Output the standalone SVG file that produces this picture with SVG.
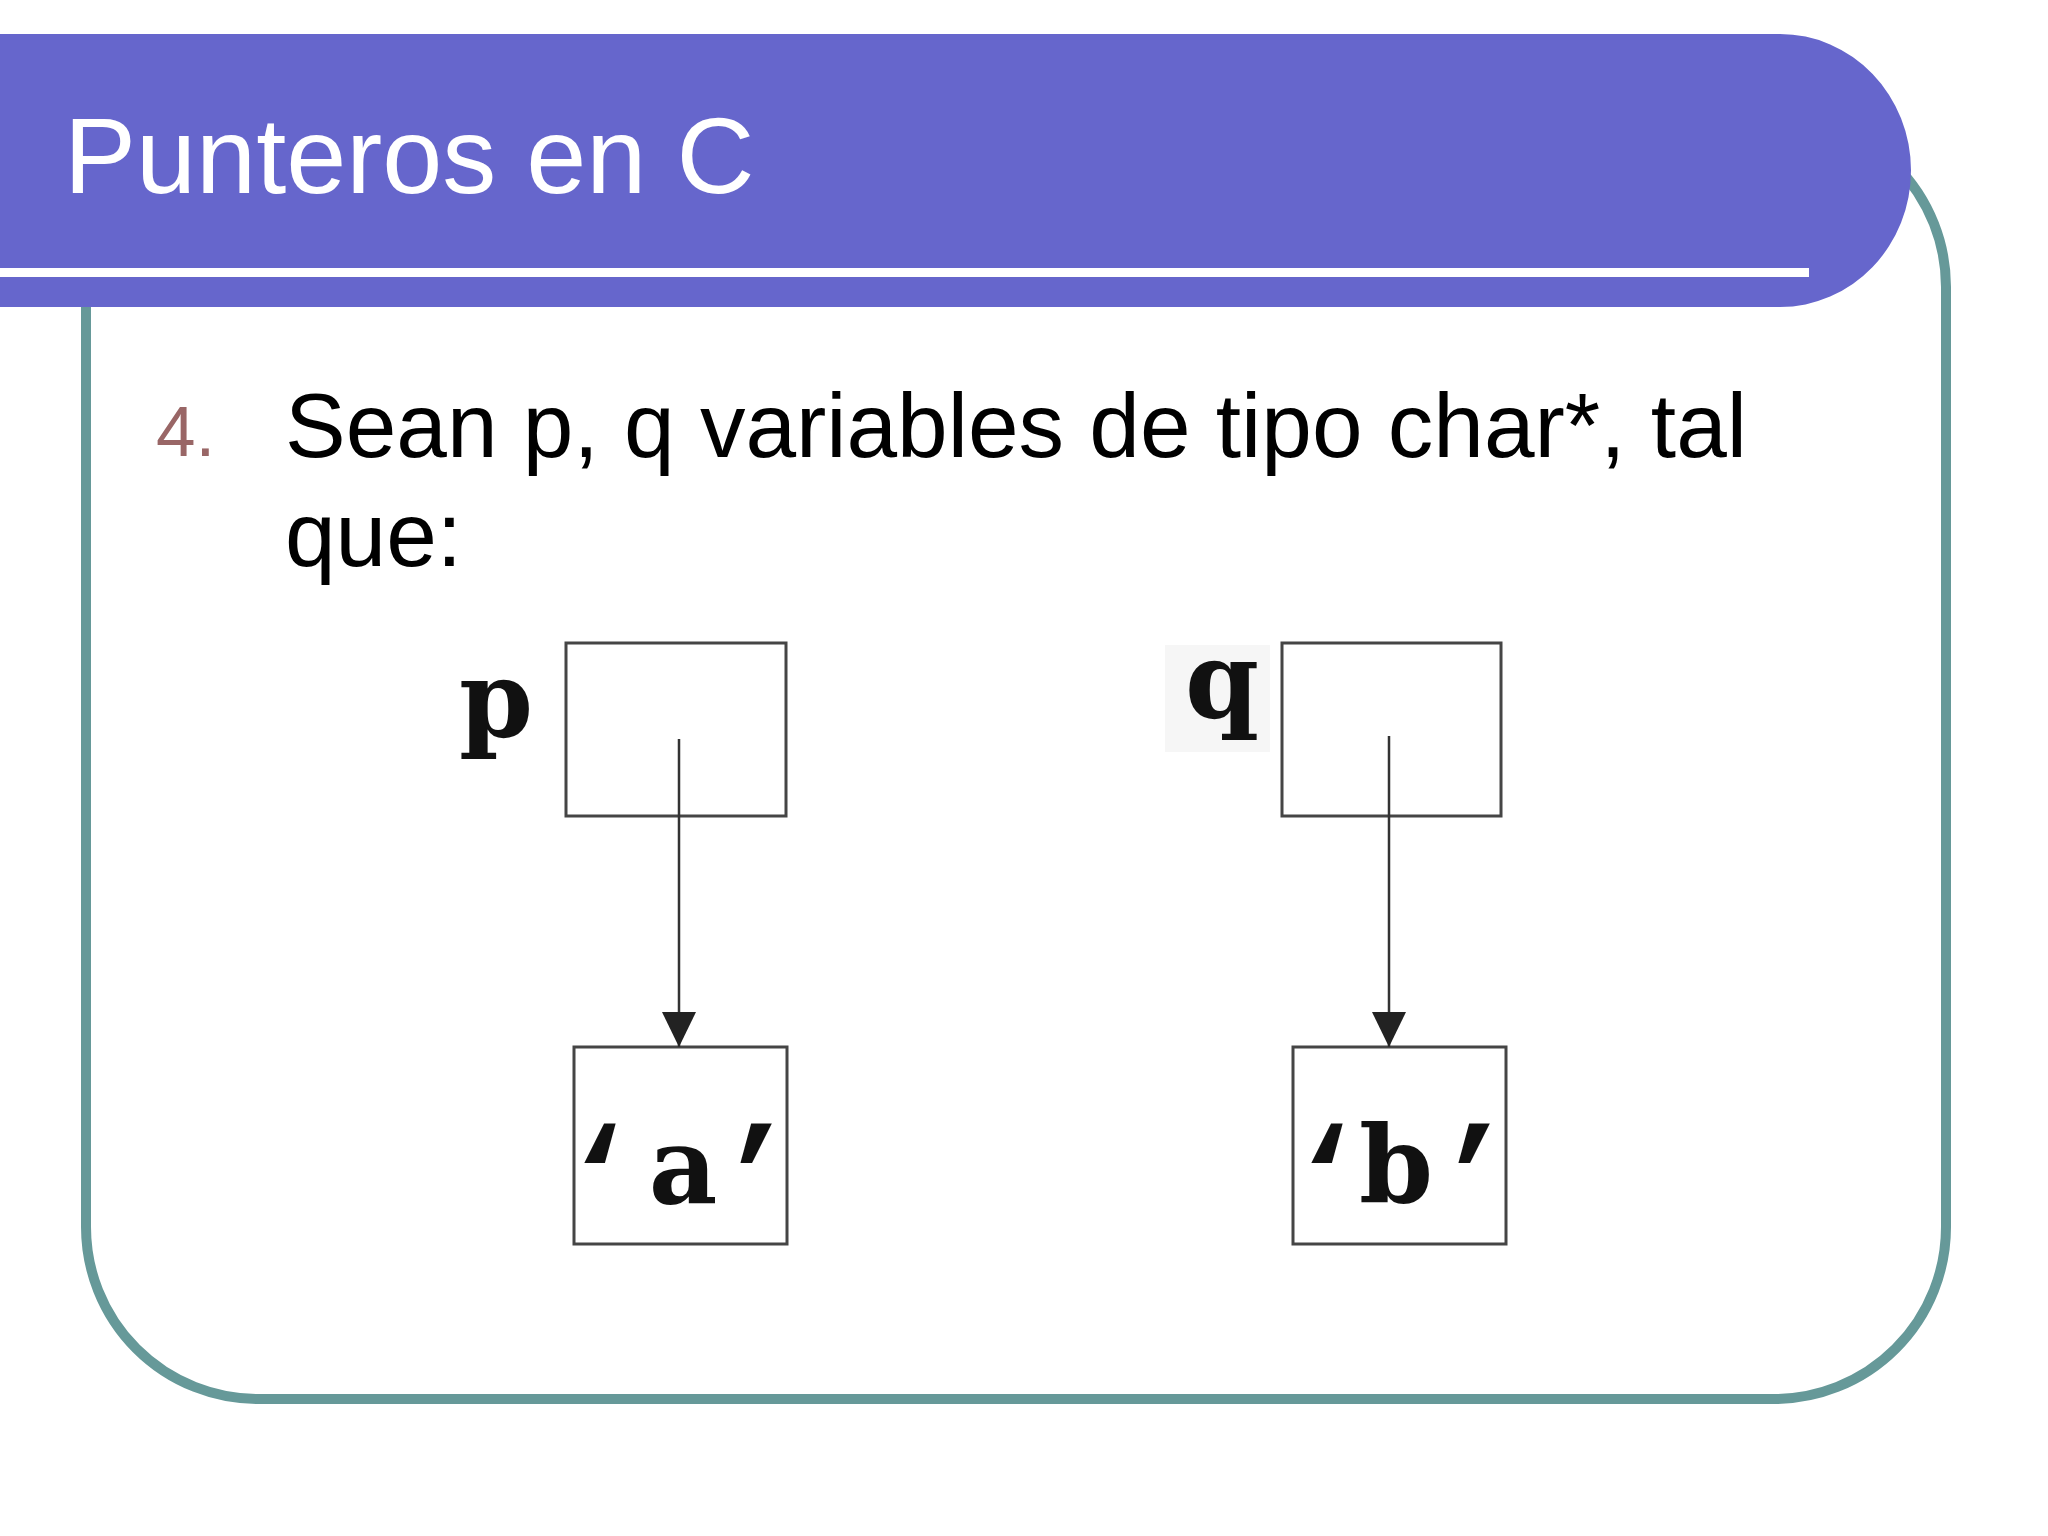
<svg xmlns="http://www.w3.org/2000/svg" width="2048" height="1536" viewBox="0 0 2048 1536">
<style>
.title{font-family:"Liberation Sans",Arial,sans-serif;font-size:108px;fill:#ffffff}
.body{font-family:"Liberation Sans",Arial,sans-serif;font-size:91px;fill:#000000}
.num{font-family:"Liberation Sans",Arial,sans-serif;font-size:71px;fill:#996666}
.box{fill:#ffffff;stroke:#454545;stroke-width:3}
.mono{font-family:"DejaVu Serif","Liberation Serif",serif;font-weight:bold;font-size:106px;fill:#111111;text-anchor:middle}
.qt{font-family:"Liberation Mono","DejaVu Sans Mono",monospace;font-size:130px}
.conn{stroke:#333333;stroke-width:2.5;fill:none}
</style>
<defs>
<marker id="arrow" markerUnits="userSpaceOnUse" markerWidth="36" markerHeight="36" refX="35" refY="17" orient="auto">
<path d="M0,0 L35,17 L0,34 Z" fill="#222222"/>
</marker>
</defs>
<rect width="2048" height="1536" fill="#ffffff"/>
<g id="frame">
<rect x="86" y="115" width="1860" height="1284" rx="172" ry="172" fill="none" stroke="#669999" stroke-width="10"/>
</g>
<g id="titlebar">
<path d="M0,34 H1780 A131,136.5 0 0 1 1780,307 H0 Z" fill="#6666CC"/>
<rect x="0" y="268" width="1809" height="9" fill="#ffffff"/>
<text class="title" x="64" y="193">Punteros en C</text>
</g>
<g id="bullet">
<text class="num" x="156" y="456">4.</text>
<text class="body" x="285" y="457">Sean p, q variables de tipo char*, tal</text>
<text class="body" x="285" y="566">que:</text>
</g>
<g id="node-p">
<text class="mono" x="496" y="737">p</text>
<rect class="box" x="566" y="643" width="220" height="173"/>
</g>
<g id="node-q">
<rect x="1165" y="645" width="105" height="107" fill="#f6f6f6"/>
<text class="mono" x="1222" y="718">q</text>
<rect class="box" x="1282" y="643" width="219" height="173"/>
</g>
<g id="node-a">
<rect class="box" x="574" y="1047" width="213" height="197"/>
<text class="mono"><tspan class="qt" x="600" y="1218">‘</tspan><tspan x="683" y="1203">a</tspan><tspan class="qt" x="756" y="1218">’</tspan></text>
</g>
<g id="node-b">
<rect class="box" x="1293" y="1047" width="213" height="197"/>
<text class="mono"><tspan class="qt" x="1327" y="1218">‘</tspan><tspan x="1396" y="1202">b</tspan><tspan class="qt" x="1474" y="1218">’</tspan></text>
</g>
<g id="connectors">
<line class="conn" x1="679" y1="739" x2="679" y2="1047" marker-end="url(#arrow)"/>
<line class="conn" x1="1389" y1="736" x2="1389" y2="1047" marker-end="url(#arrow)"/>
</g>
</svg>
